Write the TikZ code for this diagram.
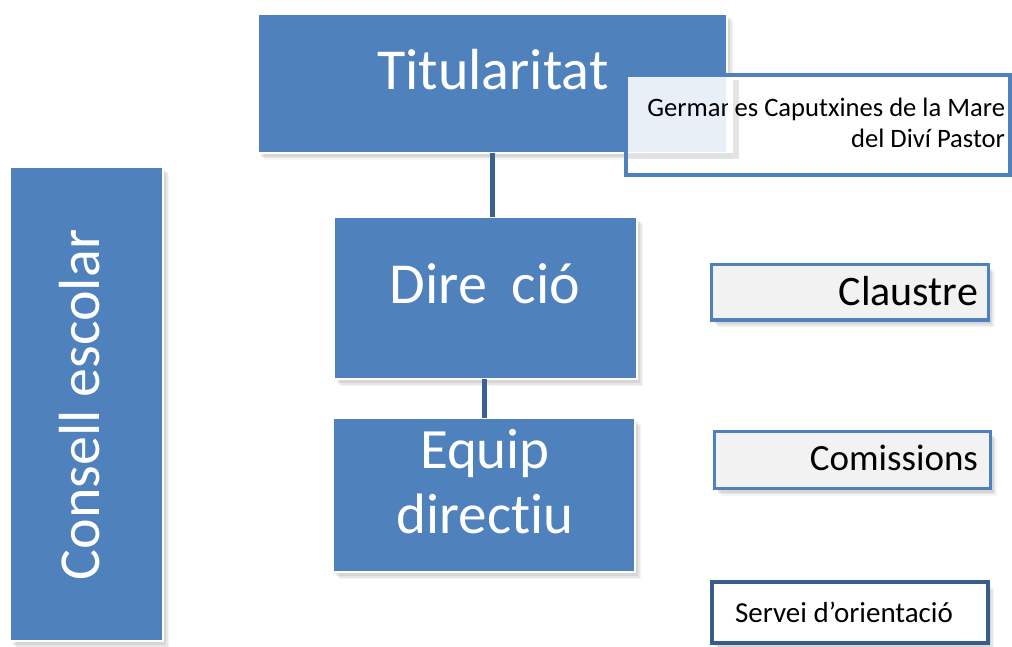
\documentclass[tikz,border=0pt]{standalone}
\usepackage{fontspec}
\setmainfont{Carlito}[RawFeature=-liga]
\usetikzlibrary{shadows}
\definecolor{boxblue}{HTML}{4F81BD}
\definecolor{linkblue}{HTML}{3A6190}
\definecolor{darkblue}{HTML}{385D8A}
\definecolor{lightfill}{HTML}{F2F2F2}
\tikzset{
  softshadow/.style={
    drop shadow={shadow xshift=6pt, shadow yshift=-7pt, opacity=0.08},
    drop shadow={shadow xshift=4.5pt, shadow yshift=-5.5pt, opacity=0.12},
    drop shadow={shadow xshift=3pt, shadow yshift=-4pt, opacity=0.16}},
  bluebox/.style={rectangle, fill=boxblue, draw=white, line width=1.5pt, inner sep=0pt, outer sep=0pt, softshadow},
  sidebox/.style={rectangle, fill=lightfill, draw=boxblue, line width=3.5pt, inner sep=0pt, outer sep=0pt, softshadow},
  bigtext/.style={text=white, inner sep=0pt, outer sep=0pt},
  plaintext/.style={text=black, inner sep=0pt, outer sep=0pt},
  conn/.style={draw=linkblue, line width=5pt},
}
\begin{document}
\begin{tikzpicture}[x=1pt,y=-1pt]
\useasboundingbox (0,0) rectangle (1012,647);

% blue boxes
\node[bluebox, minimum width=469pt, minimum height=139pt] (tit) at (492.5,83.5) {};
\node[bluebox, minimum width=303pt, minimum height=162pt] (dir) at (485.5,298) {};
\node[bluebox, minimum width=302pt, minimum height=154pt] (eq) at (484,495) {};
\node[bluebox, minimum width=153pt, minimum height=474pt] (cons) at (86.5,404) {};

% connectors
\draw[conn] (tit.south -| 492.5,0) -- (dir.north -| 492.5,0);
\draw[conn] (dir.south -| 484.5,0) -- (eq.north -| 484.5,0);

% texts in blue boxes
\node[bigtext, anchor=base, font=\fontsize{58}{64}\selectfont] (titT) at (493,90) {Titularitat};
\node[bigtext, anchor=base, font=\fontsize{58}{64}\selectfont] (dirT) at (485,303) {Dire\phantom{c}ció};
\node[bigtext, anchor=base, font=\fontsize{57}{64}\selectfont] (eqT1) at (485,468) {Equip};
\node[bigtext, anchor=base, font=\fontsize{57}{64}\selectfont] (eqT2) at (485,533) {directiu};
\node[bigtext, anchor=base, rotate=90, font=\fontsize{58}{64}\selectfont] (consT) at (99,405) {Consell escolar};

% owner box
\node[rectangle, draw=boxblue, line width=4pt, fill=white, fill opacity=0.88, draw opacity=1,
  minimum width=384.5pt, minimum height=100pt, inner sep=0pt] (germ) at (817.75,125.5) {};
\node[plaintext, anchor=base east, font=\fontsize{26.6}{31}\selectfont] (germT1) at (1005,117) {Germanes Caputxines de la Mare};
\node[plaintext, anchor=base east, font=\fontsize{26.6}{31}\selectfont] (germT2) at (1005,148) {del Diví Pastor};
% edge of the title box showing over the owner box
\fill[white] (727.5,78) rectangle (733,153);
\fill[black, opacity=0.10] (733,80) rectangle (739,159);
\fill[black, opacity=0.10] (628,153) rectangle (733,159);

% side boxes
\node[sidebox, minimum width=277pt, minimum height=55.5pt] (cla) at (850,292.25) {};
\node[plaintext, anchor=base east, font=\fontsize{42}{48}\selectfont] (claT) at (978,305) {Claustre};
\node[sidebox, minimum width=276pt, minimum height=57pt] (com) at (852.5,460) {};
\node[plaintext, anchor=base east, font=\fontsize{37}{44}\selectfont] (comT) at (978,470) {Comissions};
\node[rectangle, fill=white, draw=darkblue, line width=4.5pt, inner sep=0pt,
  minimum width=276pt, minimum height=61pt, softshadow] (ser) at (850,612.5) {};
\node[plaintext, anchor=base west, font=\fontsize{29}{34}\selectfont] (serT) at (735,622) {Servei d’orientació};
\end{tikzpicture}
\end{document}
